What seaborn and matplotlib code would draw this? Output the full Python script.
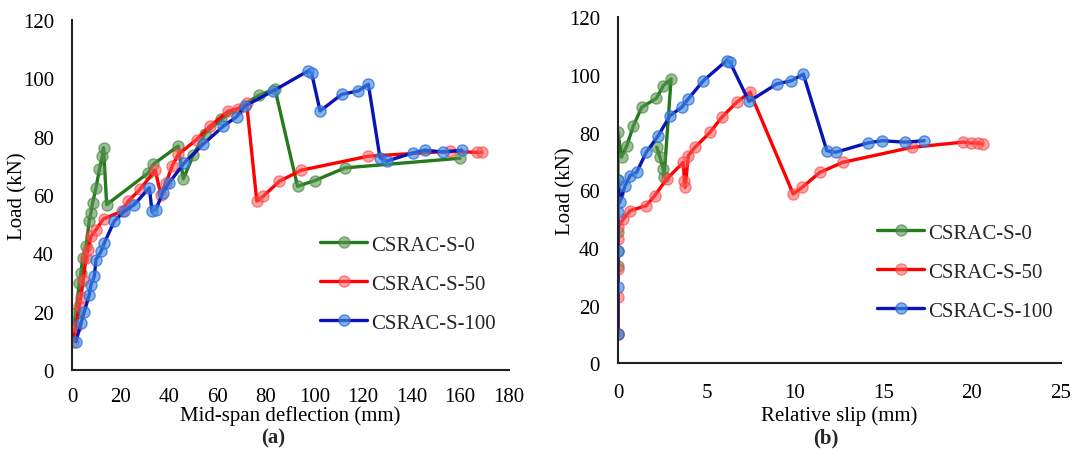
import numpy as np
import pandas as pd
import matplotlib
matplotlib.use("Agg")
import matplotlib.pyplot as plt
import seaborn as sns

# ---------------- data ----------------
series_names = ["CSRAC-S-0", "CSRAC-S-50", "CSRAC-S-100"]

# panel (a): mid-span deflection (mm) vs load (kN)
green_a_x = [1.0, 1.6, 3.0, 3.7, 4.4, 5.8, 7.1, 7.8, 8.5, 9.9, 11.3, 12.5, 13.0, 14.3, 31.5, 33.5, 43.8, 45.9, 50.0, 54.8, 61.5, 77.0, 83.7, 93.0, 100.0, 112.6, 160.0]
green_a_y = [15.5, 19.5, 29.8, 33.2, 38.4, 42.4, 51.0, 53.9, 57.3, 62.5, 68.8, 73.3, 76.2, 56.7, 67.6, 70.5, 76.8, 65.5, 73.6, 81.0, 86.0, 94.2, 96.3, 63.0, 64.9, 69.3, 72.6]

red_a_x = [0.3, 1.6, 3.0, 3.7, 4.6, 5.8, 6.5, 7.8, 9.9, 13.0, 20.5, 23.2, 28.0, 34.3, 36.7, 38.8, 41.3, 43.8, 51.4, 56.9, 64.5, 68.6, 72.0, 76.2, 78.9, 85.5, 94.5, 122.2, 155.9, 166.9, 169.0]
red_a_y = [9.7, 14.9, 21.8, 25.2, 31.0, 38.4, 41.3, 45.8, 48.1, 51.8, 54.4, 57.9, 61.9, 68.5, 60.0, 64.2, 69.9, 73.9, 79.0, 83.6, 88.8, 89.6, 91.5, 57.9, 59.6, 64.7, 68.5, 73.3, 75.0, 74.6, 74.6]

blue_a_x = [1.6, 3.7, 5.1, 7.1, 7.8, 9.2, 9.9, 12.0, 13.3, 17.4, 21.6, 25.7, 31.9, 33.0, 34.6, 37.4, 40.1, 46.3, 54.1, 62.4, 67.9, 71.3, 83.0, 97.5, 98.8, 102.3, 111.2, 118.1, 122.2, 127.0, 129.8, 140.8, 145.6, 153.1, 160.7]
blue_a_y = [9.7, 16.0, 20.0, 25.8, 29.2, 32.1, 37.8, 40.7, 43.5, 51.0, 54.4, 56.7, 62.5, 54.4, 55.0, 60.7, 64.2, 71.0, 77.4, 83.6, 86.8, 90.5, 95.7, 102.6, 101.8, 88.8, 94.5, 95.7, 98.0, 72.8, 71.6, 74.5, 75.4, 74.7, 75.4]

# panel (b): relative slip (mm) vs load (kN)
green_b_x = [0, 0, 0, 0, 0, 0, 0, 0.2, 0.5, 0.87, 1.34, 2.17, 2.56, 3.0, 2.6, 2.56, 2.37, 2.19]
green_b_y = [10.0, 33.9, 38.8, 45.4, 58.7, 63.5, 80.1, 71.5, 75.5, 82.4, 88.8, 91.9, 96.3, 98.6, 64.5, 67.4, 71.5, 74.9]

red_b_x = [0, 0, 0, 0, 0, 0.3, 0.68, 1.6, 2.07, 2.75, 3.69, 3.75, 3.8, 3.97, 4.35, 5.2, 5.86, 6.7, 7.46, 9.9, 10.4, 11.4, 12.7, 16.6, 19.5, 19.97, 20.35, 20.6]
red_b_y = [10.0, 23.1, 32.7, 43.1, 47.2, 50.0, 52.9, 54.7, 58.1, 63.9, 69.7, 63.3, 61.0, 72.0, 74.9, 80.1, 85.3, 90.5, 94.0, 58.7, 61.0, 66.2, 69.7, 74.9, 76.7, 76.4, 76.4, 76.0]

blue_b_x = [0, 0, 0, 0, 0, 0.1, 0.4, 0.68, 1.05, 1.6, 2.28, 2.94, 3.6, 3.97, 4.82, 6.14, 6.33, 7.4, 8.97, 9.8, 10.47, 11.8, 12.3, 14.1, 14.9, 16.2, 17.3]
blue_b_y = [10.2, 26.4, 38.8, 52.4, 63.6, 55.8, 61.6, 65.1, 66.2, 73.2, 79.0, 85.9, 88.8, 91.7, 98.0, 105.0, 104.4, 90.8, 96.9, 98.0, 100.3, 73.7, 73.2, 76.4, 77.2, 76.7, 77.2]

x_ticks_a = [0, 20, 40, 60, 80, 100, 120, 140, 160, 180]
x_ticks_b = [0, 5, 10, 15, 20, 25]
y_ticks = [0, 20, 40, 60, 80, 100, 120]

# ---------------- style ----------------
sns.set_theme(style="white")
plt.rcParams["font.family"] = ["Liberation Serif", "DejaVu Serif"]

line_colors = ["#257a1c", "#ff0000", "#0a14b4"]
face_colors = [(0.35, 0.58, 0.32, 0.6), (1.0, 0.35, 0.35, 0.55), (0.25, 0.55, 0.88, 0.65)]
edge_colors = [(0.25, 0.50, 0.22, 0.6), (1.0, 0.2, 0.2, 0.55), (0.15, 0.40, 0.85, 0.7)]

W, H = 1077, 456
fig = plt.figure(figsize=(W / 100, H / 100), dpi=100)

# axes geometry in pixels (left, right, top, bottom)
geom_a = (72, 508.5, 21, 371)
geom_b = (618, 1060.5, 18.3, 364.3)


def make_axes(g):
    l, r, t, b = g
    return fig.add_axes([l / W, 1 - b / H, (r - l) / W, (b - t) / H])


ax_a = make_axes(geom_a)
ax_b = make_axes(geom_b)

panels = [
    (ax_a, geom_a, [(green_a_x, green_a_y), (red_a_x, red_a_y), (blue_a_x, blue_a_y)], x_ticks_a,
     "Mid-span deflection (mm)", (0.545, 0.246), 12.5, 17),
    (ax_b, geom_b, [(green_b_x, green_b_y), (red_b_x, red_b_y), (blue_b_x, blue_b_y)], x_ticks_b,
     "Relative slip (mm)", (0.562, 0.264), 14.5, 565),
]

fs = 15
for ax, g, data, xt, xlabel, leg_pos, xpad, ylab_x in panels:
    l, r, t, b = g
    for i, (xs, ys) in enumerate(data):
        df = pd.DataFrame({"x": xs, "y": ys})
        sns.lineplot(data=df, x="x", y="y", ax=ax, sort=False, estimator=None,
                     color=line_colors[i], lw=2.4, marker="o", markersize=8,
                     markerfacecolor=face_colors[i], markeredgecolor=edge_colors[i],
                     markeredgewidth=1.0, label=series_names[i])
    ax.set_xlim(xt[0], xt[-1])
    ax.set_ylim(0, 120)
    ax.set_xticks(xt)
    ax.set_yticks(y_ticks)
    ax.tick_params(axis="both", direction="in", length=4, width=1.2, colors="black",
                   labelsize=fs)
    ax.tick_params(axis="x", pad=xpad)
    ax.tick_params(axis="y", pad=13)
    for s in ["top", "right"]:
        ax.spines[s].set_visible(False)
    for s in ["left", "bottom"]:
        ax.spines[s].set_color("#222222")
        ax.spines[s].set_linewidth(1.5)
    ax.set_xlabel(xlabel, fontsize=fs, color="black")
    ax.set_ylabel("Load (kN)", fontsize=fs, color="black")
    # x label: centre ~416 px from top
    ax.xaxis.set_label_coords(0.5, (b - 406) / (b - t))
    # y label: centre at ylab_x px
    ax.yaxis.set_label_coords((ylab_x + 10 - l) / (r - l), 0.5)
    ax.legend(loc="center left", bbox_to_anchor=leg_pos, frameon=False, fontsize=fs,
              handlelength=2.25, handletextpad=0.2, labelspacing=0.93, borderpad=0)

fig.text(273 / W, 1 - 438 / H, "(a)", ha="center", va="center", fontsize=fs, fontweight="bold")
fig.text(826 / W, 1 - 438 / H, "(b)", ha="center", va="center", fontsize=fs, fontweight="bold")

fig.savefig("out.png", dpi=100)
